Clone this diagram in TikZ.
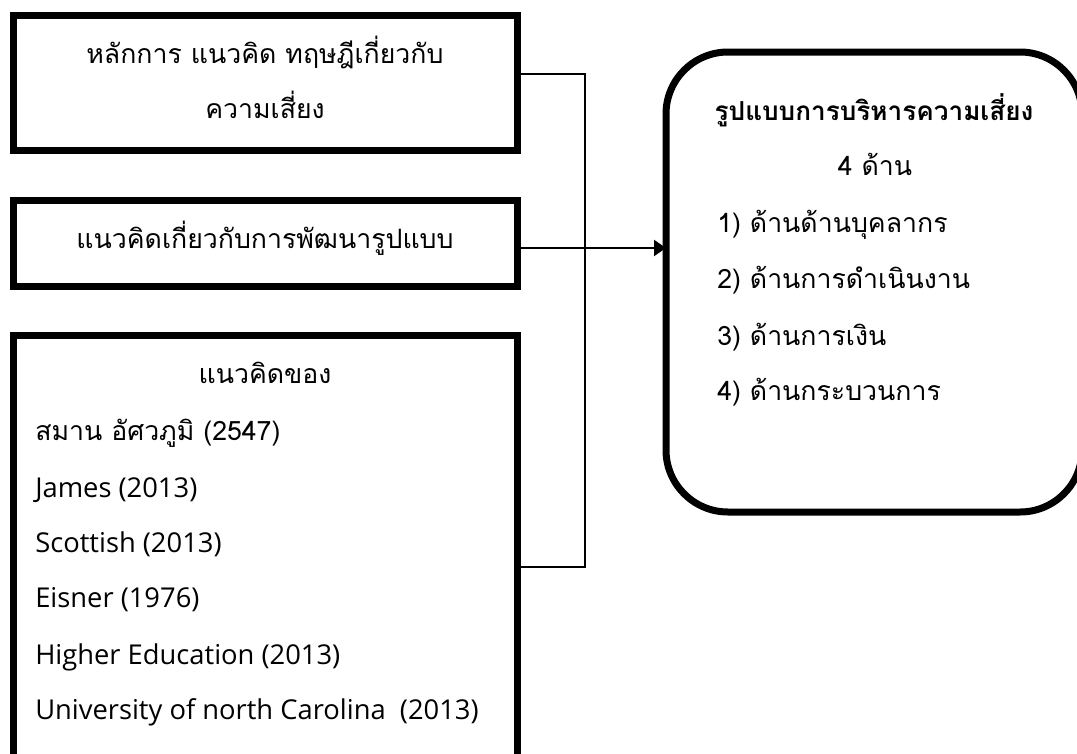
\documentclass[tikz,border=0pt]{standalone}
\usepackage{fontspec}
\setmainfont{Open Sans}
\newfontfamily\thai[Script=Thai]{Loma}
\usetikzlibrary{arrows.meta}
\begin{document}
\begin{tikzpicture}[x=0.75pt,y=-0.75pt,
  box/.style={draw,line width=5.25pt,inner sep=0pt,outer sep=0pt},
  rbox/.style={draw,line width=5.25pt,rounded corners=46.5pt,inner sep=0pt,outer sep=0pt},
  conn/.style={line width=1.1pt},
  arr/.style={line width=1.5pt,-{Triangle[length=9pt,width=12pt]}},
  th/.style={font=\thai\fontsize{20}{22}\selectfont,inner sep=0pt},
  thb/.style={font=\thai\bfseries\fontsize{19.6}{22}\selectfont,inner sep=0pt},
  la/.style={font=\fontsize{20.5}{22}\selectfont,inner sep=0pt}]
\useasboundingbox (0,0) rectangle (1077,753);
\fill[white] (0,0) rectangle (1077,753);
% boxes
\node[box,minimum width=378pt,minimum height=101.25pt] (b1) at (265,82.5) {};
\node[box,minimum width=378pt,minimum height=64.5pt] (b2) at (265,243) {};
\node[box,minimum width=378pt,minimum height=326.25pt] (b3) at (265,552.5) {};
\node[rbox,minimum width=312pt,minimum height=345pt] (rb) at (874,282) {};
% texts box1
\node[th,anchor=base] (t11) at (265,63) {หลักการ แนวคิด ทฤษฎีเกี่ยวกับ};
\node[th,anchor=base] (t12) at (265,118) {ความเสี่ยง};
\node[th,anchor=base] (t21) at (265,248) {แนวคิดเกี่ยวกับการพัฒนารูปแบบ};
% box3
\node[th,anchor=base] (t31) at (265,383) {แนวคิดของ};
\node[th,anchor=base west] (t32) at (35,440) {สมาน อัศวภูมิ (2547)};
\node[la,anchor=base west] (t33) at (35,497) {James (2013)};
\node[la,anchor=base west] (t34) at (35,552) {Scottish (2013)};
\node[la,anchor=base west] (t35) at (35,607) {Eisner (1976)};
\node[la,anchor=base west] (t36) at (35,664) {Higher Education (2013)};
\node[la,anchor=base west] (t37) at (35,719) {University of north Carolina\ \ (2013)};
% right box
\node[thb,anchor=base] (r1) at (874,120) {รูปแบบการบริหารความเสี่ยง};
\node[th,anchor=base] (r2) at (875,175) {4 ด้าน};
\node[th,anchor=base west] (r3) at (717,232) {1) ด้านด้านบุคลากร};
\node[th,anchor=base west] (r4) at (717,288) {2) ด้านการดำเนินงาน};
\node[th,anchor=base west] (r5) at (717,345) {3) ด้านการเงิน};
\node[th,anchor=base west] (r6) at (717,400) {4) ด้านกระบวนการ};
% connectors
\coordinate (j1) at (585,74);
\coordinate (j2) at (585,248);
\coordinate (j3) at (585,567);
\coordinate (a0) at (575,248);
\draw[conn] (b1.east |- j1) -- (j1) -- (j3) -- (b3.east |- j3);
\draw[conn] (b2.east |- j2) -- (j2);
\draw[arr] (a0) -- (rb.west |- a0);
\end{tikzpicture}
\end{document}
